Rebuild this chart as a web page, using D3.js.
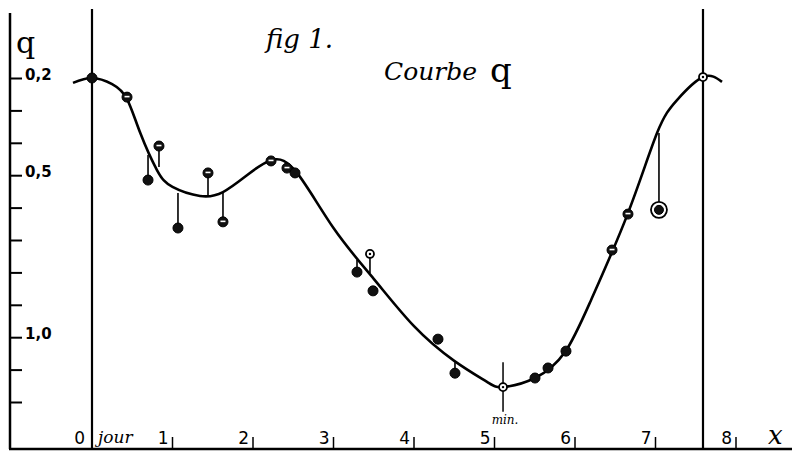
<!DOCTYPE html>
<html>
<head>
<meta charset="utf-8">
<script src="https://cdn.jsdelivr.net/npm/d3@7"></script>
<style>
  body { margin: 0; background: #fff; }
  svg { display: block; }
</style>
</head>
<body>
<svg width="792" height="458"></svg>
<script>
// fitted curve q(x)
const curveX = [-0.236, 0, 0.25, 0.435, 0.6, 0.807, 1.0, 1.342, 1.627, 1.925, 2.236, 2.547, 3.0, 3.5, 4.0, 4.5, 4.907, 5.106, 5.503, 5.876, 6.2, 6.658, 7.019, 7.267, 7.59, 7.826];
const curveQ = [0.215, 0.2, 0.219, 0.265, 0.37, 0.484, 0.536, 0.564, 0.552, 0.5, 0.453, 0.493, 0.663, 0.82, 0.966, 1.073, 1.138, 1.154, 1.126, 1.046, 0.885, 0.617, 0.37, 0.268, 0.197, 0.212];

// observed points, foot = where the stem meets the curve
const obsX = [0, 0.435, 0.696, 0.832, 1.068, 1.441, 1.627, 2.224, 2.422, 2.522, 3.292, 3.453, 3.491, 4.298, 4.509, 5.106, 5.503, 5.665, 5.888, 6.46, 6.658, 7.043, 7.59];
const obsQ = [0.2, 0.259, 0.515, 0.41, 0.663, 0.493, 0.644, 0.456, 0.478, 0.493, 0.799, 0.743, 0.857, 1.006, 1.111, 1.154, 1.126, 1.095, 1.043, 0.731, 0.62, 0.607, 0.197];
const obsFoot = [null, null, 0.438, 0.475, 0.555, 0.561, 0.552, null, null, null, 0.762, 0.802, null, null, 1.077, null, null, null, null, null, null, 0.37, null];
const obsKind = ["filled", "half", "filled", "half", "filled", "half", "half", "half", "half", "filled", "filled", "hollow", "filled", "filled", "filled", "hollow", "filled", "filled", "filled", "half", "half", "ringed", "hollow"];

const xTicks = [1, 2, 3, 4, 5, 6, 7, 8];
const yTicks = [0.2, 0.3, 0.4, 0.5, 0.6, 0.7, 0.8, 0.9, 1.0, 1.1, 1.2];
const yLabels = { "0.2": "0,2", "0.5": "0,5", "1": "1,0" };
const periodEnd = 7.59;
const minAt = 5.106;

const svg = d3.select("svg");
const x = d3.scaleLinear().domain([0, 8]).range([92, 736]);
const y = d3.scaleLinear().domain([0.2, 1.2]).range([78, 402]);
const baseY = 449;

const hand = "'DejaVu Serif', serif";

// axes frame
svg.append("line").attr("x1", 10).attr("x2", 10).attr("y1", 13).attr("y2", baseY)
  .attr("stroke", "#000").attr("stroke-width", 2.5);
svg.append("line").attr("x1", 9).attr("x2", 792).attr("y1", baseY).attr("y2", baseY)
  .attr("stroke", "#000").attr("stroke-width", 2.5);

// y axis ticks
const yAxis = d3.axisRight(y)
  .tickValues(yTicks)
  .tickSize(12)
  .tickPadding(3)
  .tickFormat(d => yLabels[String(+d.toFixed(1))] || "");
const gy = svg.append("g").attr("transform", "translate(10,0)").call(yAxis);
gy.select(".domain").remove();
gy.selectAll(".tick line").attr("stroke", "#000").attr("stroke-width", 2);
gy.selectAll(".tick text").attr("font-family", "'DejaVu Sans', sans-serif")
  .attr("font-size", 15).attr("font-weight", "bold").attr("fill", "#000").attr("dy", "0.1em");

// x ticks: digit with small tick to its right
const gx = svg.append("g");
gx.selectAll("line").data(xTicks).join("line")
  .attr("x1", d => x(d)).attr("x2", d => x(d))
  .attr("y1", baseY).attr("y2", baseY - 12)
  .attr("stroke", "#000").attr("stroke-width", 1.5);
gx.selectAll("text").data(xTicks).join("text")
  .attr("x", d => x(d) - 4).attr("y", baseY - 5)
  .attr("text-anchor", "end")
  .attr("font-family", "'DejaVu Sans', sans-serif").attr("font-size", 17)
  .text(d => d);
svg.append("text").attr("x", x(0) - 7).attr("y", baseY - 5).attr("text-anchor", "end")
  .attr("font-family", "'DejaVu Sans', sans-serif").attr("font-size", 17).text("0");
svg.append("text").attr("x", x(0) + 6).attr("y", baseY - 6)
  .attr("font-family", hand).attr("font-style", "italic").attr("font-size", 17).text("jour");
svg.append("text").attr("x", 768).attr("y", baseY - 5)
  .attr("font-family", hand).attr("font-style", "italic").attr("font-size", 26).text("x");

// vertical period lines
[0, periodEnd].forEach(v => {
  svg.append("line").attr("x1", x(v)).attr("x2", x(v)).attr("y1", 9).attr("y2", baseY)
    .attr("stroke", "#000").attr("stroke-width", 2.2);
});

// titles
svg.append("text").attr("x", 16).attr("y", 53)
  .attr("font-family", hand).attr("font-size", 30).text("q");
svg.append("text").attr("x", 266).attr("y", 48)
  .attr("font-family", hand).attr("font-style", "italic").attr("font-size", 26).text("fig 1.");
svg.append("text").attr("x", 384).attr("y", 80)
  .attr("font-family", hand).attr("font-style", "italic").attr("font-size", 25).text("Courbe");
svg.append("text").attr("x", 490).attr("y", 82)
  .attr("font-family", hand).attr("font-size", 34).text("q");

// curve
const pts = curveX.map((d, i) => [d, curveQ[i]]);
svg.append("path").datum(pts)
  .attr("d", d3.line().x(d => x(d[0])).y(d => y(d[1])).curve(d3.curveNatural))
  .attr("fill", "none").attr("stroke", "#000").attr("stroke-width", 2.6);

// minimum marker
svg.append("line").attr("x1", x(minAt)).attr("x2", x(minAt))
  .attr("y1", y(1.077)).attr("y2", y(1.23))
  .attr("stroke", "#000").attr("stroke-width", 1.5);
svg.append("text").attr("x", x(minAt) + 2).attr("y", y(1.23) + 12).attr("text-anchor", "middle")
  .attr("font-family", hand).attr("font-style", "italic").attr("font-size", 12).text("min.");

// stems and points
const obs = obsX.map((d, i) => ({ x: d, q: obsQ[i], foot: obsFoot[i], kind: obsKind[i] }));
svg.append("g").selectAll("line").data(obs.filter(d => d.foot !== null)).join("line")
  .attr("x1", d => x(d.x)).attr("x2", d => x(d.x))
  .attr("y1", d => y(d.foot)).attr("y2", d => y(d.q))
  .attr("stroke", "#000").attr("stroke-width", 1.6);

const gp = svg.append("g").selectAll("g").data(obs).join("g")
  .attr("transform", d => `translate(${x(d.x)},${y(d.q)})`);
gp.filter(d => d.kind === "ringed").append("circle")
  .attr("r", 8).attr("fill", "#fff").attr("stroke", "#000").attr("stroke-width", 1.8);
gp.append("circle")
  .attr("r", d => d.kind === "hollow" ? 4 : d.kind === "ringed" ? 4.5 : 5)
  .attr("fill", d => d.kind === "hollow" ? "#fff" : "#111")
  .attr("stroke", "#000").attr("stroke-width", d => d.kind === "hollow" ? 1.8 : 1);
gp.filter(d => d.kind === "half").append("line")
  .attr("x1", -2.5).attr("x2", 2.5).attr("y1", -0.5).attr("y2", -0.5)
  .attr("stroke", "#fff").attr("stroke-width", 1.6);
gp.filter(d => d.kind === "hollow").append("circle")
  .attr("r", 1.2).attr("fill", "#000");
</script>
</body>
</html>
